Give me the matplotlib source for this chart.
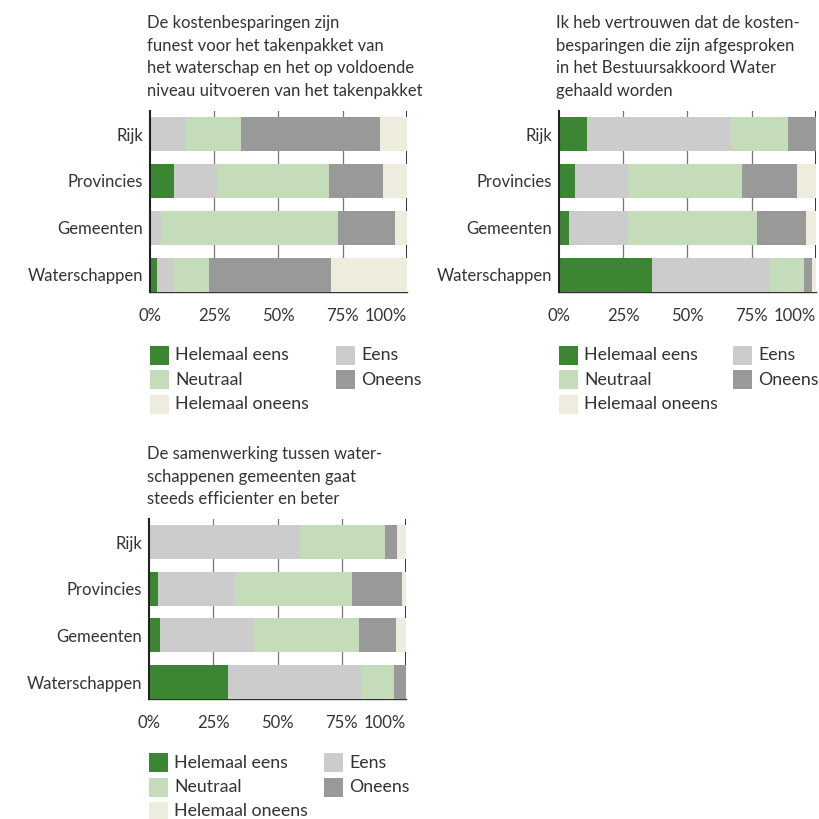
import matplotlib
matplotlib.use("Agg")
import matplotlib.pyplot as plt
import matplotlib.transforms as mtransforms
from matplotlib.patches import Rectangle
import numpy

plt.rcParams["font.family"] = ["Lato", "DejaVu Sans"]
plt.rcParams["text.color"] = "#333333"

CATEGORIES = ["Rijk", "Provincies", "Gemeenten", "Waterschappen"]
ANSWERS = ["Helemaal eens", "Eens", "Neutraal", "Oneens", "Helemaal oneens"]
COLORS = ["#3c8533", "#cccccc", "#c5dcba", "#999999", "#eeecdc"]

TITLE_1 = "De kostenbesparingen zijn\nfunest voor het takenpakket van\nhet waterschap en het op voldoende\nniveau uitvoeren van het takenpakket"
HELEMAAL_EENS_1 = [0.5, 9.4, 0.0, 2.7]
EENS_1 = [13.5, 16.8, 4.3, 6.5]
NEUTRAAL_1 = [21.5, 43.5, 68.9, 13.8]
ONEENS_1 = [54.1, 21.1, 22.3, 47.5]
HELEMAAL_ONEENS_1 = [10.4, 9.2, 4.5, 29.5]

TITLE_2 = "Ik heb vertrouwen dat de kosten-\nbesparingen die zijn afgesproken\nin het Bestuursakkoord Water\ngehaald worden"
HELEMAAL_EENS_2 = [10.9, 6.2, 3.9, 36.2]
EENS_2 = [56.1, 20.7, 23.0, 46.0]
NEUTRAAL_2 = [22.2, 44.4, 50.2, 13.3]
ONEENS_2 = [10.8, 21.4, 19.1, 3.1]
HELEMAAL_ONEENS_2 = [0.0, 7.3, 3.8, 1.4]

TITLE_3 = "De samenwerking tussen water-\nschappenen gemeenten gaat\nsteeds efficienter en beter"
HELEMAAL_EENS_3 = [0.0, 3.4, 4.2, 30.6]
EENS_3 = [58.7, 30.0, 36.4, 51.9]
NEUTRAAL_3 = [33.1, 45.6, 41.1, 12.8]
ONEENS_3 = [4.7, 19.4, 14.4, 4.7]
HELEMAAL_ONEENS_3 = [3.5, 1.6, 3.9, 0.0]

X_TICKS = [0, 25, 50, 75, 100]
X_TICK_LABELS = ["0%", "25%", "50%", "75%", "100%"]

W, H = 820, 819
TITLE_SIZE = 12
TICK_SIZE = 12
LEGEND_SIZE = 12.8


def plot_panel(fig, rect_px, title, series):
    left, top, width, height = rect_px
    ax = fig.add_axes([left / W, 1 - (top + height) / H, width / W, height / H])
    positions = numpy.arange(len(CATEGORIES))[::-1]
    cumulative = numpy.zeros(len(CATEGORIES))
    for values, color in zip(series, COLORS):
        values = numpy.array(values)
        ax.barh(positions, values, left=cumulative, height=0.73, color=color, zorder=3)
        cumulative += values
    ax.set_xlim(0, 100)
    ax.set_ylim(-0.365, 3.5)
    for x in X_TICKS[1:-1]:
        ax.axvline(x, color="#777777", linewidth=0.9, zorder=1)
    ax.axvline(100, color="#333333", linewidth=1.4, zorder=1)
    ax.set_xticks(X_TICKS)
    ax.set_xticklabels(X_TICK_LABELS, fontsize=TICK_SIZE)
    # the 100% label sits flush against the right end of the axis
    last = ax.get_xticklabels()[-1]
    last.set_horizontalalignment("right")
    last.set_transform(last.get_transform() + mtransforms.ScaledTranslation(3 / 100, 0, fig.dpi_scale_trans))
    ax.set_yticks(positions)
    ax.set_yticklabels(CATEGORIES, fontsize=TICK_SIZE)
    ax.tick_params(axis="x", length=0, pad=11.5, colors="#333333")
    ax.tick_params(axis="y", length=0, pad=5, colors="#333333")
    for side in ["top", "right"]:
        ax.spines[side].set_visible(False)
    ax.spines["left"].set_color("#222222")
    ax.spines["left"].set_linewidth(1.5)
    ax.spines["left"].set_zorder(4)
    ax.spines["bottom"].set_color("#333333")
    ax.spines["bottom"].set_linewidth(1.0)
    ax.annotate(title, xy=(0, 1), xycoords="axes fraction", xytext=(-2, 8.5),
                textcoords="offset points", ha="left", va="bottom",
                fontsize=TITLE_SIZE, linespacing=1.5)
    return ax


def draw_legend(fig, rect_px, col2_px):
    left, top, width, height = rect_px
    first_top = top + height + 54
    row_step = 24.5
    square = 19
    slots = [(0, 0), (1, 0), (0, 1), (1, 1), (0, 2)]
    for (col, row), label, color in zip(slots, ANSWERS, COLORS):
        x_px = left + col * col2_px
        y_px = first_top + row * row_step
        fig.add_artist(Rectangle((x_px / W, 1 - (y_px + square) / H), square / W, square / H,
                                 transform=fig.transFigure, facecolor=color, edgecolor="none"))
        fig.text((x_px + 25) / W, 1 - (y_px + square / 2) / H, label,
                 fontsize=LEGEND_SIZE, va="center", ha="left")


def main():
    fig = plt.figure(figsize=(W / 100, H / 100), dpi=100)
    panels = [
        ((150, 110.7, 256.7, 181), TITLE_1,
         [HELEMAAL_EENS_1, EENS_1, NEUTRAAL_1, ONEENS_1, HELEMAAL_ONEENS_1], 186),
        ((559, 110.7, 256.7, 181), TITLE_2,
         [HELEMAAL_EENS_2, EENS_2, NEUTRAAL_2, ONEENS_2, HELEMAAL_ONEENS_2], 174),
        ((149.3, 519, 256.7, 180), TITLE_3,
         [HELEMAAL_EENS_3, EENS_3, NEUTRAAL_3, ONEENS_3, HELEMAAL_ONEENS_3], 175),
    ]
    for rect_px, title, series, col2_px in panels:
        plot_panel(fig, rect_px, title, series)
        draw_legend(fig, rect_px, col2_px)
    fig.savefig("out.png", dpi=100)
    plt.close(fig)


if __name__ == "__main__":
    main()
